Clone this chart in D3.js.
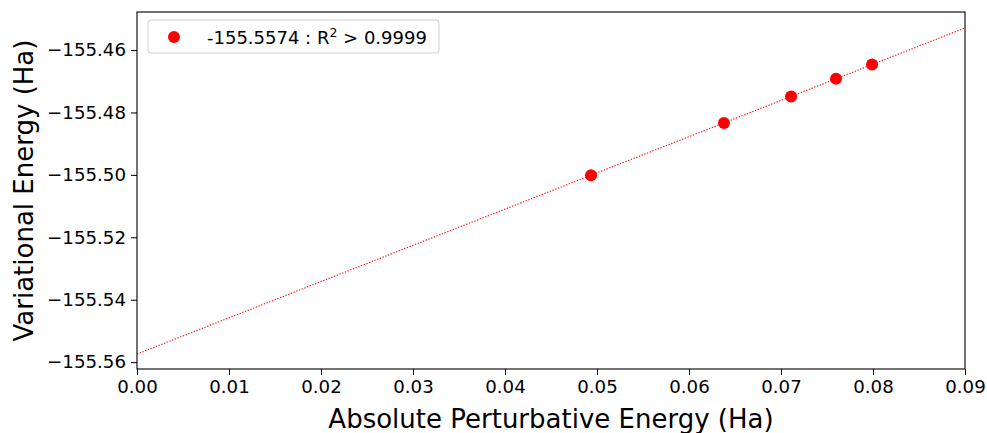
<!DOCTYPE html>
<html><head><meta charset="utf-8">
<script src="https://cdn.jsdelivr.net/npm/d3@7"></script>
<style>body{margin:0;background:#fff}svg{display:block}text{font-family:"DejaVu Sans",sans-serif}</style>
</head><body><svg id="c" width="987" height="433"></svg>
<script>
const xValues = [0.04935, 0.0638, 0.0711, 0.07598, 0.0799];
const yValues = [-155.5001, -155.4834, -155.4749, -155.4692, -155.4646];
const fitIntercept = -155.5574;
const fitSlope = 1.161;
const xTicks = [0,0.01,0.02,0.03,0.04,0.05,0.06,0.07,0.08,0.09];
const yTicks = [-155.56,-155.54,-155.52,-155.50,-155.48,-155.46];
const legendLabel = "-155.5574 : R";
const xLabel = "Absolute Perturbative Energy (Ha)";
const yLabel = "Variational Energy (Ha)";

const svg = d3.select("#c");
const L=137,R=965,T=12,B=369;
const x = d3.scaleLinear().domain([0,0.09]).range([L,R]);
const y = d3.scaleLinear().domain([-155.5622,-155.4478]).range([B,T]);

// fit line
svg.append("line")
  .attr("x1",x(0)).attr("y1",y(fitIntercept))
  .attr("x2",x(0.09)).attr("y2",y(fitIntercept+fitSlope*0.09))
  .attr("stroke","red").attr("stroke-width",1.1).attr("stroke-dasharray","1.3,1.6");

svg.append("g").selectAll("circle").data(xValues).join("circle")
  .attr("cx",d=>x(d)).attr("cy",(d,i)=>y(yValues[i])).attr("r",6).attr("fill","red");

const fmtY = d=>d3.format(".2f")(d).replace("-","\u2212");
const xa = svg.append("g").attr("transform",`translate(0,${B})`)
  .call(d3.axisBottom(x).tickValues(xTicks).tickFormat(d3.format(".2f")).tickSize(6).tickPadding(5));
const ya = svg.append("g").attr("transform",`translate(${L},0)`)
  .call(d3.axisLeft(y).tickValues(yTicks).tickFormat(fmtY).tickSize(6).tickPadding(5));
[xa,ya].forEach(a=>{a.select(".domain").remove();a.selectAll("text").attr("font-size",18.2).attr("fill","#000").attr("font-family","DejaVu Sans");a.selectAll("line").attr("stroke","#000").attr("stroke-width",1);});

svg.append("rect").attr("x",L).attr("y",T).attr("width",R-L).attr("height",B-T)
  .attr("fill","none").attr("stroke","#000").attr("stroke-width",1.1);

svg.append("text").attr("x",(L+R)/2).attr("y",428).attr("text-anchor","middle").attr("font-size",26).text(xLabel);
svg.append("text").attr("transform",`translate(33,${(T+B)/2}) rotate(-90)`).attr("text-anchor","middle").attr("font-size",26).text(yLabel);

// legend
const lg = svg.append("g");
lg.append("rect").attr("x",148).attr("y",20).attr("width",291).attr("height",33).attr("rx",3)
  .attr("fill","#fff").attr("stroke","#d0d0d0").attr("stroke-width",1);
lg.append("circle").attr("cx",174).attr("cy",37).attr("r",6).attr("fill","red");
const lt = lg.append("text").attr("x",207).attr("y",44).attr("font-size",18).text(legendLabel);
lt.append("tspan").attr("dy",-7).attr("font-size",12.5).text("2");
lt.append("tspan").attr("dy",7).text(" > 0.9999");
</script></body></html>
